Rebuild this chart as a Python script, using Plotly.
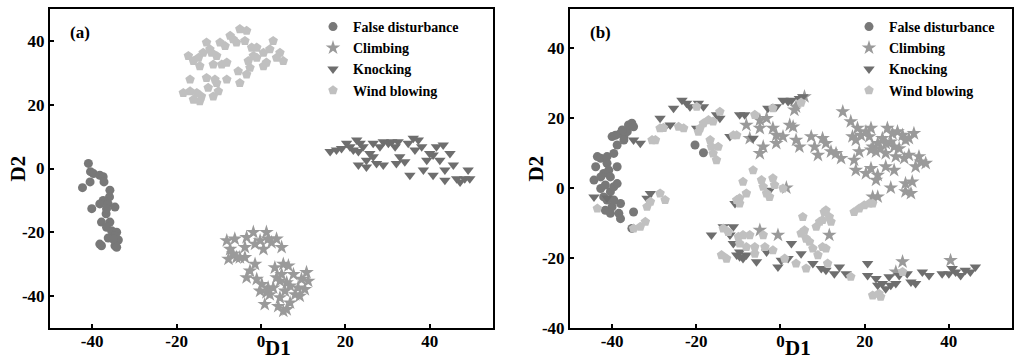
import plotly.graph_objects as go

# ---------------- Panel (a) data ----------------
a_false_x = [-40.9, -40.4, -42.3, -40.5, -39.7, -38.2, -37.4, -37.2, -35.8, -35.9, -37.4, -38.2, -36.2, -34.6, -40.1,
             -36.7, -37.8, -35.8, -36.6, -35.4, -34.2, -34.6, -33.8, -36.2, -37.8, -38.2, -34.6, -34.2, -35.0, -36.6]
a_false_y = [1.6, -1.0, -6.0, -4.2, -1.6, -2.1, -2.6, -4.2, -6.8, -8.9, -10.0, -11.1, -11.1, -12.1, -12.6,
             -14.2, -16.8, -16.8, -18.4, -19.5, -20.0, -21.1, -22.4, -21.8, -24.2, -23.7, -24.2, -24.7, -22.1, -12.6]

a_climb_x = [-8.1, -7.3, -6.2, -7.7, -5.8, -3.4, -3.8, -1.8, -1.4, -0.2, 1.3, 1.7, 0.6, 2.5, 3.7, 4.9, -3.8, -2.6,
             -3.4, -1.0, 0.2, 1.7, 1.3, -0.2, 0.9, 2.9, 3.7, 4.5, 5.3, 6.5, 4.9, 6.1, 5.7, 4.5, 4.1, 5.3, 6.1, 6.9,
             8.1, 8.8, 9.6, 10.8, 11.2, 10.4, 9.2, 7.7, 6.9, 3.3, 2.1, -1.4, -5.0, -6.6]
a_climb_y = [-22.6, -25.3, -22.1, -28.4, -27.9, -21.6, -24.7, -20.0, -23.7, -22.6, -20.0, -22.1, -25.3, -23.2,
             -22.1, -24.7, -27.9, -32.1, -34.2, -34.7, -36.3, -37.4, -38.9, -38.4, -42.6, -37.4, -34.2, -35.3,
             -30.0, -30.5, -33.2, -35.8, -38.4, -40.5, -43.2, -44.7, -44.2, -42.1, -39.5, -37.4, -34.7, -32.6,
             -35.3, -37.9, -40.0, -33.2, -36.8, -31.1, -39.5, -30.0, -27.9, -26.8]

a_knock_x = [16.4, 17.9, 19.1, 20.3, 21.1, 22.7, 23.5, 23.1, 24.2, 23.1, 25.0, 25.8, 26.6, 27.4, 28.2, 29.0, 30.2,
             31.0, 31.8, 32.5, 32.9, 32.1, 34.1, 34.9, 35.3, 36.1, 37.3, 38.1, 38.5, 39.3, 40.0, 40.8, 41.6, 42.4,
             40.8, 43.2, 43.6, 44.8, 45.6, 43.6, 46.4, 47.2, 48.3, 49.1, 49.5, 25.0, 29.0, 21.9, 26.6, 36.5]
a_knock_y = [5.3, 5.8, 6.3, 7.9, 6.8, 8.9, 7.9, 5.3, 6.8, 1.1, 2.6, 4.7, 3.7, 1.6, 6.8, 8.4, 7.9, 8.4, 6.8, 8.4,
             3.7, 1.6, 2.1, 7.9, -2.1, 9.5, 8.9, 6.8, -0.5, 2.6, 4.7, 4.2, 6.8, 2.6, -2.1, 7.4, -0.5, 4.7, 1.1,
             -3.7, -3.2, -4.2, -3.2, -0.5, -3.2, 0.5, 1.1, 5.8, 7.9, 5.8]

a_wind_x = [-18.4, -16.8, -16.0, -14.5, -16.8, -17.2, -16.0, -14.8, -14.5, -13.7, -12.9, -12.1, -11.3, -10.5,
            -9.7, -9.3, -8.5, -8.1, -7.3, -6.6, -5.8, -5.0, -3.4, -3.8, -2.2, -1.0, -3.0, -2.6, -3.4, -5.0, -5.4,
            -8.1, -10.5, -11.3, -12.5, -12.9, -10.1, -1.0, 0.6, 1.3, 2.9, 3.7, 5.3, 2.1, 0.6, 4.5, -1.8, -14.1,
            -15.2, -11.7, -10.9]
a_wind_y = [23.7, 24.2, 21.6, 21.1, 27.9, 35.3, 33.7, 34.7, 32.1, 36.3, 39.5, 37.4, 32.6, 35.3, 39.5, 32.6, 38.4,
            33.2, 41.6, 40.5, 39.5, 43.7, 43.2, 40.0, 37.9, 37.9, 33.7, 31.6, 29.5, 26.8, 30.5, 27.9, 26.8, 22.6,
            25.3, 28.4, 24.2, 34.7, 36.3, 33.2, 40.0, 34.7, 33.7, 37.4, 32.1, 36.3, 35.3, 22.6, 23.7, 36.3, 27.9]

# ---------------- Panel (b) data ----------------
b_false_x = [-44.3, -43.9, -43.5, -42.7, -42.0, -41.2, -40.8, -42.7, -42.0, -41.2, -40.4, -39.6, -38.8, -40.0,
             -41.6, -40.4, -38.8, -38.8, -39.6, -40.0, -39.2, -38.0, -37.2, -36.4, -36.1, -35.3, -34.9, -37.6,
             -38.4, -38.0, -38.0, -34.9, -35.3, -20.3, -18.3, -41.2, -42.7, -41.6, -40.4, -39.6, -37.2]
b_false_y = [2.2, 6.0, 8.9, 8.4, 4.1, 7.0, 5.0, -0.2, -2.6, -3.5, -1.1, 0.3, 1.2, -5.4, -6.4, -7.3, 6.0, 12.2,
             9.8, 14.6, 15.0, 15.5, 14.6, 16.0, 17.9, 18.4, 17.4, 16.5, -7.3, -8.8, -4.5, -6.9, -11.6, 12.2, 10.0,
             8.9, 3.1, 0.8, 3.1, -3.5, 13.6]

b_climb_x = [14.8, 16.7, 18.3, 17.1, 17.9, 19.1, 20.3, 21.5, 21.1, 21.9, 23.1, 24.2, 25.4, 26.6, 27.8, 29.0, 29.7,
             30.5, 31.7, 28.2, 27.0, 25.0, 23.8, 22.7, 21.5, 18.7, 17.5, 17.9, 21.5, 23.1, 22.7, 26.2, 29.7, 31.3,
             29.7, 31.0, 33.3, 34.5, 32.9, 30.5, 29.4, 27.4, 26.2, 25.0, 21.9, 23.1, 7.3, 8.1, 8.9, 10.0, 10.8,
             12.0, 13.2, 14.4, 4.5, 3.7, 3.0, 2.2, 0.6, -1.0, -1.0, -1.8, -3.3, -4.9, -4.1, -8.1, -7.3, -4.9, -4.9,
             1.4, 11.6, -0.6, 29.0, 40.4, 5.7, 3.7, 3.3, -4.9, 27.4, 32.1, 27.0, 25.0, 20.3]
b_climb_y = [21.7, 18.9, 17.0, 14.6, 13.6, 15.0, 16.0, 17.0, 14.6, 11.7, 12.7, 14.1, 17.0, 15.5, 16.0, 15.0, 13.6,
             14.1, 15.5, 11.2, 11.7, 9.8, 11.2, 10.3, 10.8, 10.3, 7.9, 5.0, 5.5, 3.6, 2.2, 0.0, 1.2, 1.7, -1.1,
             -1.6, 7.4, 7.0, 8.9, 9.3, 8.4, 8.9, 13.1, 12.7, -2.6, -2.6, 14.6, 11.7, 9.3, 14.1, 12.7, 10.3, 9.8,
             8.4, 11.7, 13.6, 17.4, 17.9, 14.6, 12.7, 15.0, 17.0, 19.8, 19.3, 11.7, 17.9, 14.1, 17.0, 9.8, 0.0,
             -13.5, -13.5, -21.1, -20.7, 26.0, 23.1, 22.2, -12.1, -24.0, 6.0, 5.0, 6.0, 4.1]

b_knock_x = [-44.3, -41.2, -34.9, -33.3, -30.9, -31.7, -28.6, -27.4, -26.2, -25.4, -23.4, -22.3, -21.5, -19.5,
             -18.3, -19.9, -15.2, -14.4, -12.0, -9.7, -8.5, -6.5, -3.0, -1.0, 0.6, 1.8, 2.6, 4.5, 5.3, -10.8, -2.6,
             -16.4, -13.6, -12.0, -11.2, -9.7, -10.4, -8.9, -8.1, -5.7, -3.3, -0.6, 0.2, 1.8, 2.6, 4.9, 7.7, 9.7,
             12.8, 14.0, 15.6, 20.7, 20.7, 22.7, 23.1, 24.2, 25.0, 26.2, 27.4, 25.8, 30.1, 31.0, 32.1, 33.7, 35.3,
             38.4, 40.0, 41.6, 42.8, 43.9, 45.1, 46.3, 40.8, 28.2, 10.8, -9.7, -11.2]
b_knock_y = [-2.6, -2.9, 13.6, 12.7, -1.6, -3.0, 19.8, 17.4, 17.9, 22.7, 25.0, 24.1, 23.1, 24.1, 23.1, 17.0, 20.8,
             19.8, 14.6, 20.8, 20.8, 14.1, 22.7, 23.1, 25.0, 24.6, 25.0, 25.5, 26.0, -4.5, -0.7, -13.5, -11.1,
             -13.5, -15.9, -18.3, -19.2, -20.2, -19.2, -21.1, -18.3, -22.6, -20.7, -20.2, -15.9, -18.8, -21.6,
             -23.0, -24.5, -22.6, -24.5, -21.6, -25.0, -25.9, -27.8, -27.3, -28.8, -27.8, -27.3, -25.4, -24.5,
             -26.9, -27.3, -24.0, -25.0, -24.5, -24.5, -24.0, -25.0, -23.5, -24.0, -22.6, -23.0, -25.0, -23.5,
             -19.7, -11.1]

b_wind_x = [-43.5, -34.9, -33.3, -32.1, -31.7, -30.9, -30.5, -29.7, -28.6, -27.8, -28.6, -27.4, -24.2, -23.0,
            -19.9, -19.5, -19.1, -18.3, -17.1, -16.0, -16.7, -16.4, -16.0, -15.2, -14.8, -14.4, -6.1, -1.8, 4.9,
            -10.4, -11.2, -9.7, -8.9, -8.1, -6.5, -4.5, -4.1, -3.3, -2.6, -1.8, -1.4, 0.6, -10.4, -9.7, -13.6,
            -12.4, -10.0, -9.7, -8.9, -7.3, -8.1, -6.1, -6.1, -3.7, -4.1, -1.8, 1.0, -14.0, -12.8, 5.3, 4.9, 6.1,
            5.7, 8.5, 9.3, 10.0, 10.4, 10.8, 11.6, 12.0, 6.9, 7.7, 8.9, 10.0, 10.8, 3.7, 6.1, 11.2, 16.7, 17.5,
            18.7, 19.9, 21.1, 21.9, 21.9, 23.4, 23.8, 29.0]
b_wind_y = [-5.9, -11.6, -11.1, -9.7, -5.4, -4.0, 13.6, 13.6, 17.0, 17.1, -1.6, -3.5, 17.4, 17.0, 23.1, 16.0,
            17.0, 18.4, 19.3, 18.9, 13.6, 11.7, 9.8, 7.9, 11.7, 21.7, 20.8, 22.7, 24.3, 15.0, 15.0, -3.0, 1.7,
            -1.6, 5.0, 2.2, 0.3, -1.6, -2.6, 2.7, 0.8, -0.2, -3.5, -4.5, -11.6, -12.6, -14.0, -15.9, -13.5, -13.5,
            -16.9, -16.9, -18.8, -16.9, -13.5, -17.8, -20.2, -19.2, -20.2, -8.3, -13.0, -14.5, -12.1, -11.1, -9.7,
            -9.2, -6.9, -6.4, -8.3, -9.7, -15.4, -17.3, -19.2, -16.9, -17.3, -21.6, -23.0, -21.6, -25.4, -6.9,
            -5.9, -5.0, -4.5, -4.5, -30.7, -30.2, -31.1, -24.0]

names = ["False disturbance", "Climbing", "Knocking", "Wind blowing"]
symbols = ["circle", "star", "triangle-down", "pentagon"]
colors = ["#787878", "#9a9a9a", "#6e6e6e", "#c0c0c0"]
sizes = [9, 11, 10, 10]
tick_vals = [-40, -20, 0, 20, 40]
tick_text = ["-40", "-20", "0", "20", "40"]
panel_labels = ["(a)", "(b)"]
x_title = "D1"
y_title = "D2"

FONT = "Liberation Serif, Times New Roman, serif"

panels = [
    ("x", "y", "legend", [(a_false_x, a_false_y), (a_climb_x, a_climb_y), (a_knock_x, a_knock_y), (a_wind_x, a_wind_y)]),
    ("x2", "y2", "legend2", [(b_false_x, b_false_y), (b_climb_x, b_climb_y), (b_knock_x, b_knock_y), (b_wind_x, b_wind_y)]),
]

fig = go.Figure()
for xa, ya, lg, series in panels:
    for i, (xs, ys) in enumerate(series):
        fig.add_trace(go.Scatter(
            x=xs, y=ys, mode="markers", name=names[i], xaxis=xa, yaxis=ya, legend=lg,
            marker=dict(symbol=symbols[i], color=colors[i], size=sizes[i], line=dict(width=0)),
        ))

axis_common = dict(
    showline=True, mirror=True, linecolor="black", linewidth=2,
    ticks="inside", ticklen=4, tickwidth=1.5, tickcolor="black",
    showgrid=False, zeroline=False, tickvals=tick_vals, ticktext=tick_text,
    automargin=False,
    tickfont=dict(family=FONT, size=17, color="black", weight="bold"),
)
title_font = dict(family=FONT, size=21, color="black", weight="bold")
legend_font = dict(family=FONT, size=14, color="black", weight="bold")
label_font = dict(family=FONT, size=17, color="black", weight="bold")

y_mid = 0.5 * ((1 - 328 / 362) + (1 - 9 / 362))
annotations = []
for xd, yd, lab in [("x domain", "y domain", panel_labels[0]), ("x2 domain", "y2 domain", panel_labels[1])]:
    annotations.append(dict(text=lab, x=0.04, y=0.925, xref=xd, yref=yd, xanchor="left", yanchor="middle",
                            showarrow=False, font=label_font))
    # x-axis title, sitting just right of the "0" tick like the original
    annotations.append(dict(text=x_title, x=0.515, y=0, xref=xd, yref="paper",
                            xanchor="center", yanchor="bottom", showarrow=False, font=title_font))
for xp in (17 / 1014, 535 / 1014):
    annotations.append(dict(text=y_title, x=xp, y=y_mid, xref="paper", yref="paper", xanchor="center",
                            yanchor="middle", textangle=-90, showarrow=False, font=title_font))

fig.update_layout(
    width=1014, height=362,
    margin=dict(l=0, r=0, t=0, b=0, autoexpand=False),
    paper_bgcolor="white", plot_bgcolor="white",
    xaxis=dict(domain=[50 / 1014, 493 / 1014], range=[-50, 55], anchor="y", ticklabelstandoff=-3, **axis_common),
    yaxis=dict(domain=[1 - 328 / 362, 1 - 9 / 362], range=[-50, 50], anchor="x", **axis_common),
    xaxis2=dict(domain=[570 / 1014, 1012 / 1014], range=[-50, 55], anchor="y2", ticklabelstandoff=-3, **axis_common),
    yaxis2=dict(domain=[1 - 328 / 362, 1 - 9 / 362], range=[-40, 51], anchor="x2", **axis_common),
    legend=dict(x=313 / 1014, y=1 - 11 / 362, xanchor="left", yanchor="top",
                bgcolor="rgba(0,0,0,0)", font=legend_font),
    legend2=dict(x=849 / 1014, y=1 - 11 / 362, xanchor="left", yanchor="top",
                 bgcolor="rgba(0,0,0,0)", font=legend_font),
    annotations=annotations,
)

fig.write_html("out.html", config={"displayModeBar": False},
               post_script="document.body.style.margin='0px';")
